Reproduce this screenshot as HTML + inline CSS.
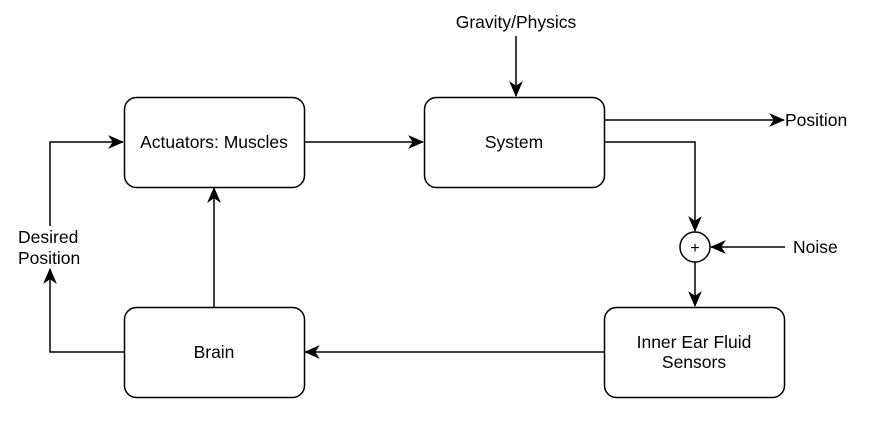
<!DOCTYPE html>
<html><head><style>body{margin:0;background:#fff}svg{display:block}text{font-family:"Liberation Sans",sans-serif;font-size:17.5px;fill:#000}</style></head>
<body>
<svg width="894" height="426" viewBox="0 0 894 426" xmlns="http://www.w3.org/2000/svg">
<defs><marker id="a" markerWidth="16" markerHeight="16" refX="13" refY="6" orient="auto" markerUnits="userSpaceOnUse" viewBox="0 0 14 12"><path d="M0,0 L14,6 L0,12 L4,6 Z" fill="#000"/></marker></defs>
<g fill="none" stroke="#000" stroke-width="1.5">
<rect x="124.5" y="97.5" width="180" height="90" rx="12"/>
<rect x="424.5" y="97.5" width="180" height="90" rx="12"/>
<rect x="124.5" y="307.5" width="180" height="90" rx="12"/>
<rect x="604.5" y="307.5" width="180" height="90" rx="12"/>
<circle cx="695" cy="247" r="15"/>
<path d="M516,36 V96" marker-end="url(#a)"/>
<path d="M304,142 H423" marker-end="url(#a)"/>
<path d="M604,120 H784" marker-end="url(#a)"/>
<path d="M604,142 H695 V231" marker-end="url(#a)"/>
<path d="M785,247 H711" marker-end="url(#a)"/>
<path d="M695,262 V306" marker-end="url(#a)"/>
<path d="M604,352 H305" marker-end="url(#a)"/>
<path d="M214,307 V188" marker-end="url(#a)"/>
<path d="M124,352 H50 V269" marker-end="url(#a)"/>
<path d="M50,226 V142 H123" marker-end="url(#a)"/>
</g>
<text x="516" y="28" text-anchor="middle">Gravity/Physics</text>
<text x="214" y="148" text-anchor="middle">Actuators: Muscles</text>
<text x="514" y="148" text-anchor="middle">System</text>
<text x="214" y="358" text-anchor="middle">Brain</text>
<text x="694" y="348" text-anchor="middle">Inner Ear Fluid</text>
<text x="694" y="368" text-anchor="middle">Sensors</text>
<text x="785" y="126">Position</text>
<text x="793" y="253">Noise</text>
<text x="18" y="243">Desired</text>
<text x="18" y="264">Position</text>
<text x="695" y="253" text-anchor="middle" style="font-size:16px">+</text>
</svg>
</body></html>
